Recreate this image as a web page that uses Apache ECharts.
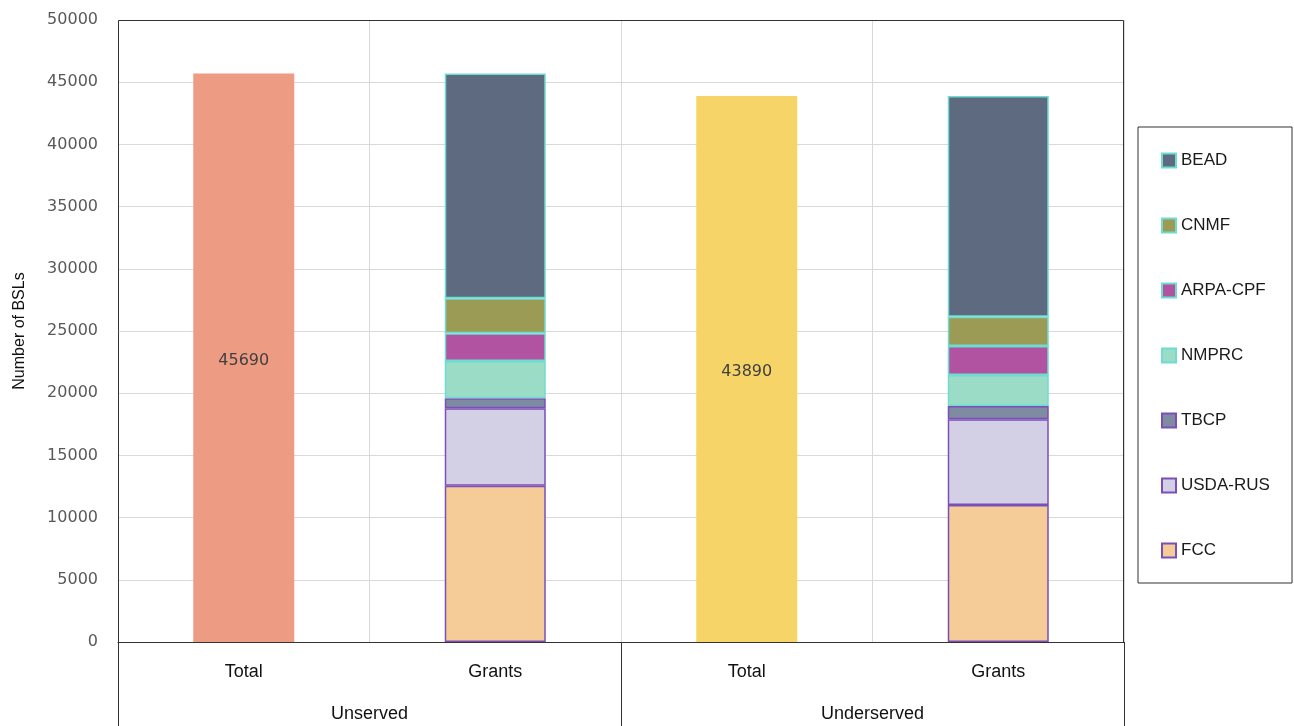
<!DOCTYPE html>
<html>
<head>
<meta charset="utf-8">
<script src="https://cdn.jsdelivr.net/npm/echarts@6/dist/echarts.min.js"></script>
<style>
  html, body { margin: 0; padding: 0; background: #fff; }
  #chart { width: 1294px; height: 726px; }
</style>
</head>
<body>
<div id="chart"></div>
<script>
// data
const categories = ['Total', 'Grants', 'Total', 'Grants']
const groups = ['Unserved', 'Underserved']
const yTicks = [0, 5000, 10000, 15000, 20000, 25000, 30000, 35000, 40000, 45000, 50000]

const totals = [45690, '-', 43890, '-']
const fcc = ['-', 12570, '-', 11010]
const usdaRus = ['-', 6220, '-', 6890]
const tbcp = ['-', 800, '-', 1070]
const nmprc = ['-', 3000, '-', 2490]
const arpaCpf = ['-', 2220, '-', 2330]
const cnmf = ['-', 2820, '-', 2360]
const bead = ['-', 18060, '-', 17740]

const totalColors = ['#EE9B84', '#EE9B84', '#F6D467', '#F6D467']
const purpleEdge = '#7B4FB8'
const cyanEdge = '#6FDCD2'

const chart = echarts.init(document.getElementById('chart'))

function grantSeries(name, data, color, edge) {
  return {
    name: name,
    type: 'bar',
    stack: 'bsl',
    barWidth: 101,
    data: data,
    itemStyle: {
      color: color,
      borderColor: edge,
      borderWidth: 1.5
    }
  }
}

chart.setOption({
  animation: false,
  grid: {
    left: 118,
    right: 170,
    top: 20,
    bottom: 84
  },
  legend: {
    orient: 'vertical',
    left: 1161,
    top: 152,
    padding: 0,
    icon: 'rect',
    itemWidth: 14,
    itemHeight: 14,
    itemGap: 48,
    data: ['BEAD', 'CNMF', 'ARPA-CPF', 'NMPRC', 'TBCP', 'USDA-RUS', 'FCC'],
    textStyle: {
      fontFamily: 'Liberation Sans',
      fontSize: 17,
      color: '#1a1a1a'
    }
  },
  graphic: [{
    // plot frame, drawn over the split lines
    type: 'rect',
    z: 50,
    shape: { x: 118.5, y: 20.5, width: 1005, height: 622 },
    style: { fill: 'none', stroke: '#333', lineWidth: 1 },
    silent: true
  }, {
    // legend box
    type: 'rect',
    shape: { x: 1138, y: 127, width: 154, height: 456 },
    style: { fill: 'none', stroke: '#333', lineWidth: 1 },
    silent: true
  }],
  xAxis: [{
    type: 'category',
    data: categories,
    axisLine: { show: true, lineStyle: { color: '#333', width: 1 } },
    axisTick: { show: false },
    splitLine: { show: true, lineStyle: { color: '#d9d9d9' } },
    axisLabel: {
      margin: 21,
      fontFamily: 'Liberation Sans',
      fontSize: 18,
      color: '#111'
    }
  }, {
    type: 'category',
    data: groups,
    position: 'bottom',
    axisLine: { show: false },
    axisTick: { show: true, length: 84, lineStyle: { color: '#333', width: 1 } },
    splitLine: { show: false },
    axisLabel: {
      margin: 63,
      fontFamily: 'Liberation Sans',
      fontSize: 18,
      color: '#111'
    }
  }],
  yAxis: {
    type: 'value',
    min: 0,
    max: 50000,
    interval: 5000,
    name: 'Number of BSLs',
    nameLocation: 'middle',
    nameGap: 90,
    nameTextStyle: {
      fontFamily: 'Liberation Sans',
      fontSize: 16,
      color: '#111'
    },
    axisLine: { show: false },
    axisTick: { show: false },
    splitLine: { lineStyle: { color: '#d9d9d9' } },
    axisLabel: {
      margin: 20,
      fontFamily: 'DejaVu Sans',
      fontSize: 16,
      color: '#595959',
      formatter: function (v) {
        return yTicks.indexOf(v) >= 0 ? String(v) : ''
      }
    }
  },
  series: [{
    name: 'Total',
    type: 'bar',
    stack: 'bsl',
    barWidth: 101,
    data: totals,
    itemStyle: {
      color: function (p) { return totalColors[p.dataIndex] }
    },
    label: {
      show: true,
      position: 'inside',
      offset: [0, 3],
      fontFamily: 'DejaVu Sans',
      fontSize: 16,
      color: '#404040'
    }
  },
    grantSeries('FCC', fcc, '#F5CB97', purpleEdge),
    grantSeries('USDA-RUS', usdaRus, '#D3D0E6', purpleEdge),
    grantSeries('TBCP', tbcp, '#7F8BA1', purpleEdge),
    grantSeries('NMPRC', nmprc, '#9BDCC7', cyanEdge),
    grantSeries('ARPA-CPF', arpaCpf, '#B153A1', cyanEdge),
    grantSeries('CNMF', cnmf, '#9C9B56', cyanEdge),
    grantSeries('BEAD', bead, '#5D6A80', cyanEdge)
  ]
})
</script>
</body>
</html>
